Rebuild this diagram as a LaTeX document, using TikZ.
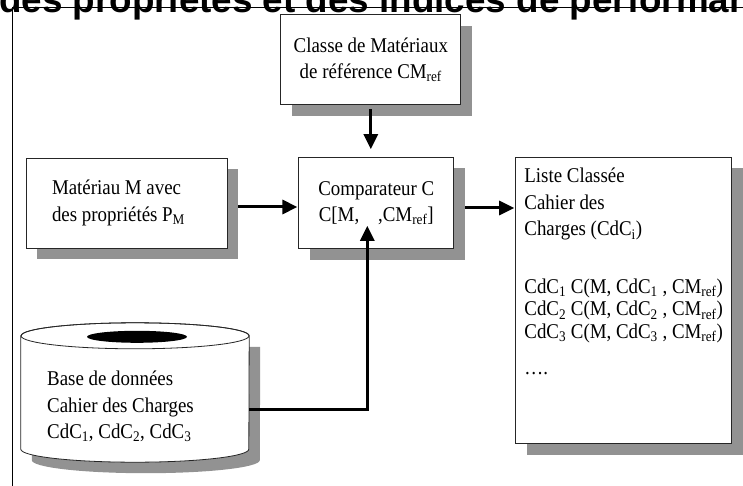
\documentclass[tikz,border=0pt]{standalone}
\usepackage{fontspec}
\setmainfont{Liberation Serif}[FakeStretch=0.9]
\newfontfamily\titlefont{Liberation Sans}
\usetikzlibrary{positioning,arrows.meta,shadows}
\definecolor{shadowgrey}{HTML}{929292}
\tikzset{
	box/.style={draw=black!85, line width=0.8pt, fill=white, inner sep=0pt,
		general shadow={fill=shadowgrey, shadow xshift=11pt, shadow yshift=-11pt}},
	txt/.style={inner sep=0pt, font=\fontsize{21}{26.5}\selectfont},
	flow/.style={line width=3pt, -{Triangle[length=15pt,width=14pt]}},
	rim/.style={x radius=114pt, y radius=13pt},
}

\begin{document}
\begin{tikzpicture}[x=1pt,y=-1pt]
	\useasboundingbox (0,0) rectangle (743,486);
	\node[anchor=base west, inner sep=0pt, font=\titlefont\bfseries\fontsize{36.8}{36.8}\selectfont] (title) at (-1,13) {des propriétés et des indices de performance};
	\draw[line width=0.8pt] (12,7) -- (743,7) (12,7) -- (12,486);
	\node[box, txt, align=flush left, text width=149pt, minimum width=201pt, minimum height=90pt] (mat) at (126.5,203)
		{Matériau M avec\\des propriétés P\textsubscript{M}};
	\node[box, txt, align=center, minimum width=155pt, minimum height=91pt, right=71pt of mat] (comp)
		{Comparateur C\\C[M,\ \ \ \ ,CM\textsubscript{ref}]};
	\node[box, txt, align=center, minimum width=180pt, minimum height=90pt, above=52pt of comp, xshift=-5.5pt] (ref)
		{Classe de Matériaux\\de référence CM\textsubscript{ref}};
	\node[box, minimum width=216pt, minimum height=286pt, right=61pt of comp.north east, anchor=north west] (list) {};
	\node[txt, align=flush left, anchor=north west] (listtext) at ([xshift=9pt,yshift=-11pt]list.north west)
		{Liste Classée\\Cahier des\\Charges (CdC\textsubscript{i})\\[31pt]
		CdC\textsubscript{1} C(M, CdC\textsubscript{1} , CM\textsubscript{ref})\\[-4pt]
		CdC\textsubscript{2} C(M, CdC\textsubscript{2} , CM\textsubscript{ref})\\[-4pt]
		CdC\textsubscript{3} C(M, CdC\textsubscript{3} , CM\textsubscript{ref})\\[10pt]
		….};
	\node[inner sep=0pt, minimum width=228pt, minimum height=113pt] (db) at (135,392.5) {};
	\fill[shadowgrey] ([xshift=11pt,yshift=-11pt]db.north west) -- ([xshift=11pt,yshift=-11pt]db.south west)
		arc[start angle=180, end angle=360, rim] -- ([xshift=11pt,yshift=-11pt]db.north east) -- cycle;
	\filldraw[fill=white, draw=black!85, line width=0.8pt] (db.north west) -- (db.south west)
		arc[start angle=180, end angle=360, rim] -- (db.north east) arc[start angle=0, end angle=180, rim] -- cycle;
	\draw[black!85, line width=0.8pt] (db.north) ellipse [rim];
	\fill ([xshift=2pt,yshift=-1pt]db.north) ellipse [x radius=50pt, y radius=6pt];
	\node[txt, align=flush left, anchor=west] (dbtext) at ([xshift=-88pt,yshift=-14pt]db.center)
		{Base de données\\Cahier des Charges\\CdC\textsubscript{1}, CdC\textsubscript{2}, CdC\textsubscript{3}};
	\draw[flow, shorten <=4pt, shorten >=8pt] (ref.south) -- (ref.south |- comp.north);
	\draw[flow, shorten >=1pt] ([xshift=11pt,yshift=-4pt]mat.east) -- ([yshift=-4pt]comp.west);
	\draw[flow, shorten >=1pt] ([xshift=11pt,yshift=-5pt]comp.east) -- ([yshift=-5pt]comp.east -| list.west);
	\draw[flow] ([yshift=-16.5pt]db.east) -| ([xshift=-9pt,yshift=23pt]comp.south);
\end{tikzpicture}
\end{document}
